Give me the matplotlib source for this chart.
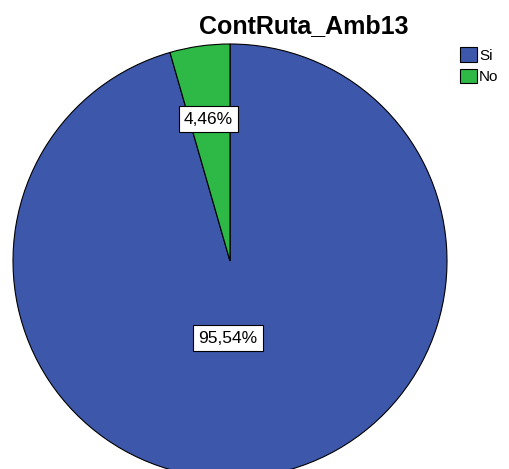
import matplotlib.pyplot as plt
from matplotlib.patches import Patch

categories = ["Si", "No"]
values = [95.54, 4.46]
colors = ["#3D57AB", "#2EB845"]
pct_labels = ["95,54%", "4,46%"]

plt.rcParams['font.family'] = ['Liberation Sans', 'DejaVu Sans']

fig = plt.figure(figsize=(5.09, 4.69), dpi=100)
W, H = 509, 469
# pie: centre (230, 261) px, radius 217 px
cx, cy, r = 230, 261, 217
ax = fig.add_axes([(cx - r) / W, (H - cy - r) / H, 2 * r / W, 2 * r / H])

wedges, _ = ax.pie(values, colors=colors, startangle=90, counterclock=False,
                   radius=1, wedgeprops=dict(edgecolor="black", linewidth=0.8))
ax.set_xlim(-1, 1)
ax.set_ylim(-1, 1)
ax.set_aspect("equal")
ax.axis("off")

box = dict(boxstyle="square,pad=0.3", facecolor="white", edgecolor="black", linewidth=0.8)
ax.text(-0.01, -0.355, pct_labels[0], ha="center", va="center", fontsize=12.5, bbox=box)
ax.text(-0.10, 0.654, pct_labels[1], ha="center", va="center", fontsize=12.5, bbox=box)

fig.text(304 / W, 1 - 26 / H, "ContRuta_Amb13", ha="center", va="center",
         fontsize=18, fontweight="bold")

handles = [Patch(facecolor=c, edgecolor="black", linewidth=0.8) for c in colors]
fig.legend(handles, categories, loc="upper left", bbox_to_anchor=(460 / W, 1 - 47 / H),
           frameon=False, fontsize=11, handlelength=1.1, handleheight=1.1,
           handletextpad=0.15, labelspacing=0.4, borderpad=0, borderaxespad=0)

fig.savefig("out.png", dpi=100)
